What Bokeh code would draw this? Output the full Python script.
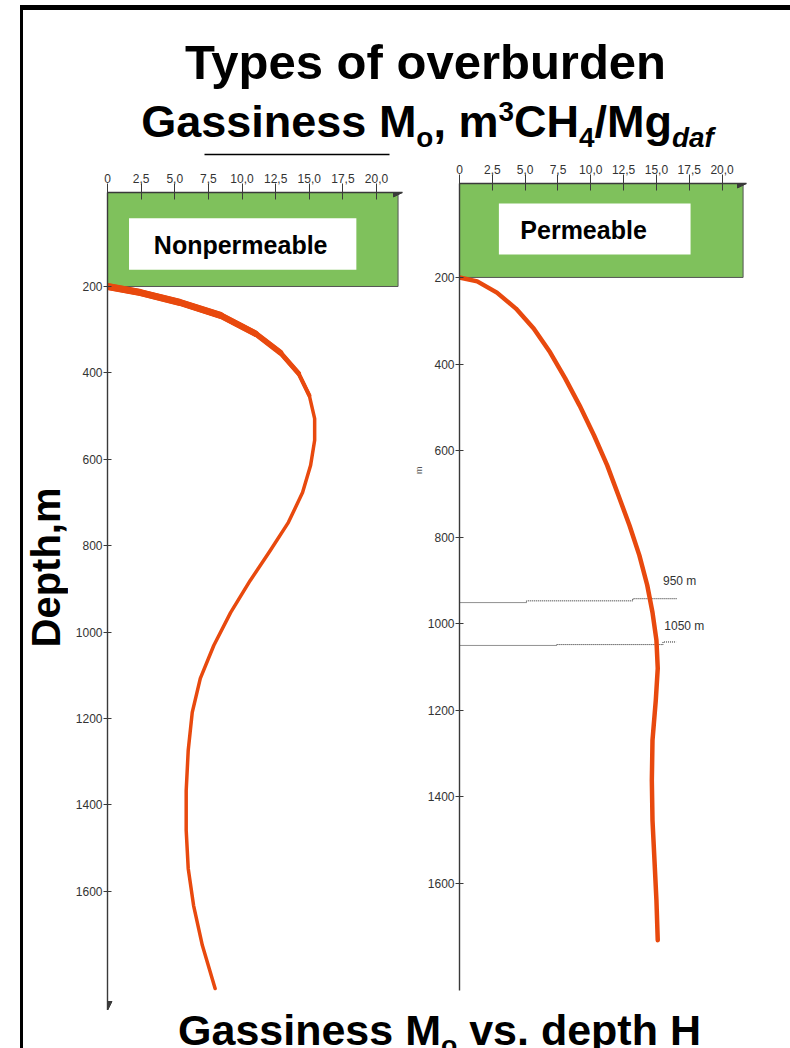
import math
from bokeh.plotting import figure
from bokeh.models import Range1d, FixedTicker, Arrow, NormalHead, Title
from bokeh.layouts import column, row
from bokeh.embed import file_html
from bokeh.resources import INLINE
from bokeh.core.properties import value

# ---------------- data ----------------
gas_ticks = [0.0, 2.5, 5.0, 7.5, 10.0, 12.5, 15.0, 17.5, 20.0]
gas_tick_labels = ["0", "2,5", "5,0", "7,5", "10,0", "12,5", "15,0", "17,5", "20,0"]
depth_ticks = [200, 400, 600, 800, 1000, 1200, 1400, 1600]

overburden_base = 200  # m, bottom of the overburden layer

# gassiness M_o [m3 CH4 / Mg daf] vs depth H [m]
nonperm_depth = [200, 214, 237, 267, 309, 353, 401, 452, 506, 556, 614, 677, 746,
                 811, 881, 955, 1031, 1107, 1186, 1274, 1367, 1459, 1547, 1633, 1725, 1825]
nonperm_gas = [0.0, 2.45, 5.4, 8.4, 11.0, 12.85, 14.2, 15.0, 15.4, 15.4, 15.1, 14.5, 13.45,
               12.1, 10.6, 9.15, 7.9, 6.9, 6.3, 6.0, 5.85, 5.85, 6.0, 6.4, 7.05, 8.0]

perm_depth = [200, 209, 235, 272, 318, 373, 433, 496, 565, 634, 703, 773, 842, 911,
              974, 1038, 1103, 1177, 1269, 1362, 1454, 1546, 1639, 1731]
perm_gas = [0.0, 1.35, 2.85, 4.3, 5.65, 6.9, 8.05, 9.15, 10.25, 11.25, 12.1, 12.95, 13.7,
            14.3, 14.7, 15.0, 15.1, 14.95, 14.7, 14.65, 14.7, 14.85, 15.0, 15.1]

# coal seam horizons in the permeable section
seam_950_gas = [0.0, 5.1, 13.2, 16.6]
seam_950_depth = [951, 947, 942, 942]
seam_1050_gas = [0.0, 7.4, 15.5, 16.5]
seam_1050_depth = [1050, 1048, 1042, 1042]

# ---------------- styles ----------------
GREEN = "#7fc15c"
ORANGE = "#e8490e"
AXIS = "#3a3a3a"
TICKFONT = "Liberation Sans"
BOLD = "Liberation Sans"
MID = 0.3465  # distance from the em-box middle down to the baseline, in em


def panel(width, height, b_left, b_right, b_top, b_bottom, gas_max, depth_top, depth_bottom):
    p = figure(width=width, height=height, title=None,
               x_range=Range1d(0, gas_max), y_range=Range1d(depth_bottom, depth_top),
               x_axis_location="above", output_backend="svg", toolbar_location=None,
               min_border_left=b_left, min_border_right=b_right,
               min_border_top=b_top, min_border_bottom=b_bottom)
    p.grid.visible = False
    p.outline_line_color = None
    p.background_fill_color = "white"
    p.border_fill_color = "white"

    xa = p.xaxis[0]
    xa.ticker = FixedTicker(ticks=gas_ticks)
    xa.major_label_overrides = dict(zip(gas_ticks, gas_tick_labels))
    xa.major_tick_out = 9
    xa.major_tick_in = 7
    xa.major_label_standoff = 1

    ya = p.yaxis[0]
    ya.ticker = FixedTicker(ticks=depth_ticks)
    ya.major_tick_out = 4
    ya.major_tick_in = 4
    ya.major_label_standoff = 1

    for ax in (xa, ya):
        ax.axis_line_color = AXIS
        ax.axis_line_width = 1.4
        ax.major_tick_line_color = AXIS
        ax.major_tick_line_width = 1
        ax.minor_tick_line_color = None
        ax.major_label_text_font = TICKFONT
        ax.major_label_text_font_size = "12px"
        ax.major_label_text_color = "#333333"

    # arrow head at the end of the gassiness axis
    p.add_layout(Arrow(x_start=0, y_start=depth_top, x_end=gas_max, y_end=depth_top,
                       line_alpha=0,
                       end=NormalHead(size=9, fill_color=AXIS, line_color=AXIS)))
    return p


def blank(width, height):
    f = figure(width=width, height=height, title=None, x_range=Range1d(0, width),
               y_range=Range1d(height, 0), x_axis_type=None, y_axis_type=None,
               output_backend="svg", toolbar_location=None, min_border=0)
    f.grid.visible = False
    f.outline_line_color = None
    return f


# ---------------- left panel: nonpermeable overburden ----------------
left = panel(342, 854, 39, 8, 36, 0, 21.93, -17.6, 1876)
left.quad(left=0, right=21.6, top=-17.6, bottom=overburden_base,
          fill_color=GREEN, line_color="#555555", line_width=1)
left.quad(left=1.6, right=18.5, top=42, bottom=161, fill_color="white", line_color=None)
left.text(x=[9.9], y=[104], text=["Nonpermeable"], text_align="center",
          text_baseline="middle", text_font=value(BOLD), text_font_style="bold",
          text_font_size="25px", text_color="black")
# the curve is drawn heavier near the base of the overburden, tapering with depth
for n_pts, lw in [(len(nonperm_gas), 3.5), (8, 4.2), (7, 5.0), (6, 5.8), (5, 6.5), (4, 7.0)]:
    left.line(nonperm_gas[:n_pts], nonperm_depth[:n_pts], line_color=ORANGE,
              line_width=lw, line_cap="round", line_join="round")
left.add_layout(Arrow(x_start=0, y_start=-17.6, x_end=0, y_end=1876, line_alpha=0,
                      end=NormalHead(size=9, fill_color=AXIS, line_color=AXIS)))

# ---------------- right panel: permeable overburden ----------------
right = panel(380, 854, 42, 44, 27, 20, 21.86, -17.0, 1847)
right.quad(left=0, right=21.6, top=-17.0, bottom=overburden_base,
           fill_color=GREEN, line_color="#555555", line_width=1)
right.quad(left=3.0, right=17.6, top=29, bottom=147, fill_color="white", line_color=None)
right.text(x=[9.45], y=[90], text=["Permeable"], text_align="center",
           text_baseline="middle", text_font=value(BOLD), text_font_style="bold",
           text_font_size="25px", text_color="black")
right.step(seam_950_gas, seam_950_depth, mode="after", line_color="#222222",
           line_width=1, line_dash="1 1")
right.step(seam_1050_gas, seam_1050_depth, mode="after", line_color="#222222",
           line_width=1, line_dash="1 1")
right.line(perm_gas, perm_depth, line_color=ORANGE, line_width=4.5,
           line_cap="round", line_join="round")
right.text(x=[15.5, 15.6], y=[900, 1006], text=["950 m", "1050 m"],
           text_baseline="middle", text_font=value(TICKFONT),
           text_font_size="12px", text_color="#333333")
right.add_layout(Title(text="m", align="right", offset=283, text_font=TICKFONT,
                       text_font_size="9px", text_font_style="normal",
                       text_color="#555555", standoff=2), "left")

# ---------------- titles ----------------
WIDTHS = {"G": 778, "a": 556, "s": 556, "i": 278, "n": 611, "e": 556, " ": 278, "M": 833,
          "o": 611, ",": 278, "m": 889, "3": 556, "C": 722, "H": 722, "4": 556, "/": 278,
          "g": 611, "d": 611, "f": 333, "v": 556, ".": 278, "p": 611, "t": 333, "h": 611}


def advance(s, size):
    return sum(WIDTHS[c] for c in s) * size / 1000.0


def rich_title(fig, pieces, center_x, baseline_y):
    total = sum(advance(t, s) for t, s, _, _ in pieces)
    x = center_x - total / 2
    for t, s, style, dy in pieces:
        lead = len(t) - len(t.lstrip(" "))
        shown = t.lstrip(" ")
        fig.text(x=[x + advance(" " * lead, s)], y=[baseline_y + dy - MID * s],
                 text=[shown], text_align="left", text_baseline="middle",
                 text_font=value(BOLD), text_font_style=style,
                 text_font_size=f"{s:.1f}px", text_color="black")
        x += advance(t, s)


head = blank(767, 146)
head.text(x=[402], y=[68 - MID * 49], text=["Types of overburden"], text_align="center",
          text_baseline="middle", text_font=value(BOLD), text_font_style="bold",
          text_font_size="49px", text_color="black")
F = 45
sub = 0.62 * F
rich_title(head, [("Gassiness M", F, "bold", 0), ("o", sub, "bold", 0.22 * F),
                  (", m", F, "bold", 0), ("3", sub, "bold", -0.36 * F),
                  ("CH", F, "bold", 0), ("4", sub, "bold", 0.22 * F),
                  ("/Mg", F, "bold", 0), ("daf", sub, "bold italic", 0.22 * F)],
           404, 127)
# thin rule above the first panel
head.segment(x0=[181], y0=[144], x1=[366], y1=[144], line_color="black", line_width=1.5)

# vertical axis caption to the left of the first panel
strip = blank(45, 854)
strip.text(x=[22], y=[411], text=["Depth,m"], angle=math.pi / 2,
           text_align="center", text_baseline="middle",
           text_font=value(BOLD), text_font_style="bold", text_font_size="40px",
           text_color="black")

foot = blank(767, 38)
FB = 43
rich_title(foot, [("Gassiness M", FB, "bold", 0), ("o", 0.62 * FB, "bold", 0.22 * FB),
                  (" vs. depth H", FB, "bold", 0)], 416, 34)

layout = column(head, row(strip, column(left), column(right)), foot,
                styles={"border-top": "5px solid black", "border-left": "3px solid black"},
                margin=(5, 0, 0, 20))

open("out.html", "w").write(file_html(layout, INLINE))
